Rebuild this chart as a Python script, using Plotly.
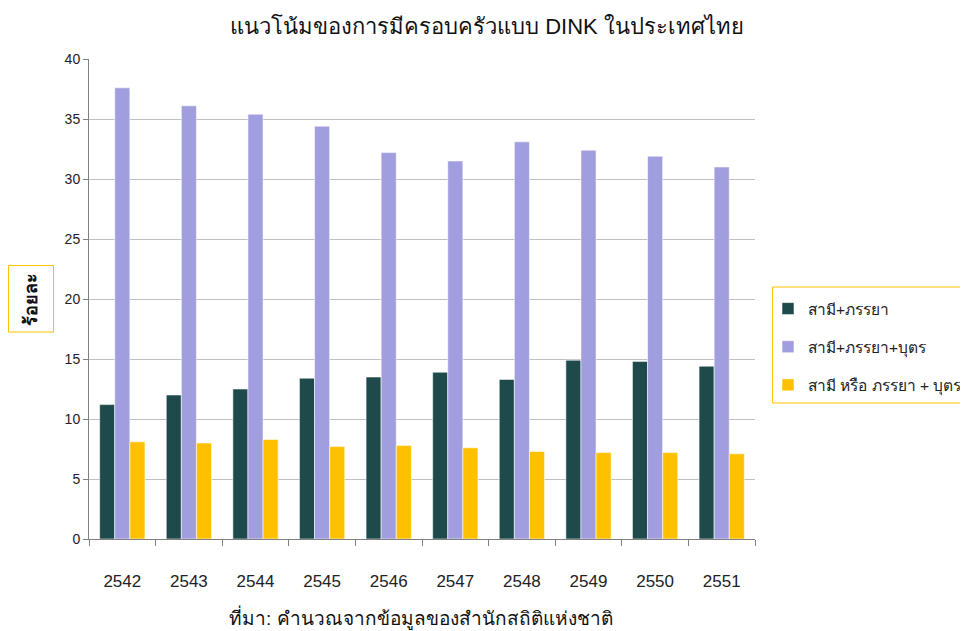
import plotly.graph_objects as go

years = ["2542", "2543", "2544", "2545", "2546", "2547", "2548", "2549", "2550", "2551"]
couple = [11.2, 12.0, 12.5, 13.4, 13.5, 13.9, 13.3, 14.9, 14.8, 14.4]
couple_child = [37.6, 36.1, 35.4, 34.4, 32.2, 31.5, 33.1, 32.4, 31.9, 31.0]
single_parent = [8.1, 8.0, 8.3, 7.7, 7.8, 7.6, 7.3, 7.2, 7.2, 7.1]

names = ["สามี+ภรรยา", "สามี+ภรรยา+บุตร", "สามี หรือ ภรรยา + บุตร"]
colors = ["#1F4A4B", "#A09EDE", "#FFC000"]
series = [couple, couple_child, single_parent]

FONT = "Arial, Tahoma, 'Noto Sans', sans-serif"

W, H = 960, 623  # page body has an 8px offset
PL, PT, PW, PH = 89, 59, 666, 480  # plot area in page pixels


def px(xp):
    return (xp - PL) / PW


def py(yp):
    return (PT + PH - yp) / PH


fig = go.Figure()
for i, (n, c, v) in enumerate(zip(names, colors, series)):
    fig.add_trace(go.Bar(
        x=years, y=v, name=n, legendgroup=str(i),
        marker=dict(color=c, line=dict(color="rgba(255,255,255,0.55)", width=1)),
    ))

fig.update_layout(
    width=W, height=H,
    margin=dict(l=PL - 8, r=W - (PL - 8) - PW, t=PT - 8, b=H - (PT - 8) - PH, autoexpand=False),
    paper_bgcolor="white", plot_bgcolor="white",
    font=dict(family=FONT, color="#222"),
    barmode="group", bargap=0.32, bargroupgap=0,
    title=dict(text="แนวโน้มของการมีครอบครัวแบบ DINK ในประเทศไทย",
               x=(487 - 8) / W, xref="container", xanchor="center",
               y=1 - 18 / H, yref="container", yanchor="middle",
               font=dict(size=22, color="#111")),
    legend=dict(x=px(768), xanchor="left", y=py(292), yanchor="top",
                borderwidth=0, bgcolor="rgba(0,0,0,0)",
                font=dict(size=15.5, color="#222"), tracegroupgap=15,
                traceorder="grouped"),
    showlegend=True,
)
fig.update_xaxes(
    type="category", showgrid=False, showline=True, linecolor="#808080", linewidth=1,
    ticks="outside", tickson="boundaries", ticklen=6, tickcolor="#808080",
    tickfont=dict(size=17, color="#222"), ticklabelstandoff=27,
)
fig.update_yaxes(
    range=[0, 40], dtick=5, showgrid=True, gridcolor="#C0C0C0", gridwidth=1,
    showline=True, linecolor="#808080", linewidth=1,
    ticks="outside", ticklen=5, tickcolor="#808080",
    tickfont=dict(size=14, color="#222"), zeroline=False,
)
# legend frame
fig.add_shape(type="rect", xref="paper", yref="paper",
              x0=px(772.5), x1=px(990), y0=py(403), y1=py(287),
              line=dict(color="#FFC000", width=1), fillcolor="rgba(0,0,0,0)", layer="below")
# y-axis title frame
fig.add_shape(type="rect", xref="paper", yref="paper",
              x0=px(8.5), x1=px(53.5), y0=py(332), y1=py(265.5),
              line=dict(color="#FFC000", width=1), fillcolor="white")
fig.add_annotation(
    text="<b>ร้อยละ</b>", textangle=-90, xref="paper", yref="paper",
    x=px(30.5), y=py(299), xanchor="center", yanchor="middle",
    showarrow=False, font=dict(size=18, color="#111"),
)
fig.add_annotation(
    text="ที่มา: คำนวณจากข้อมูลของสำนักสถิติแห่งชาติ", xref="paper", yref="paper",
    x=px(421), y=py(617), xanchor="center", yanchor="middle",
    showarrow=False, font=dict(size=19, color="#111"),
)
fig.write_html("out.html")
